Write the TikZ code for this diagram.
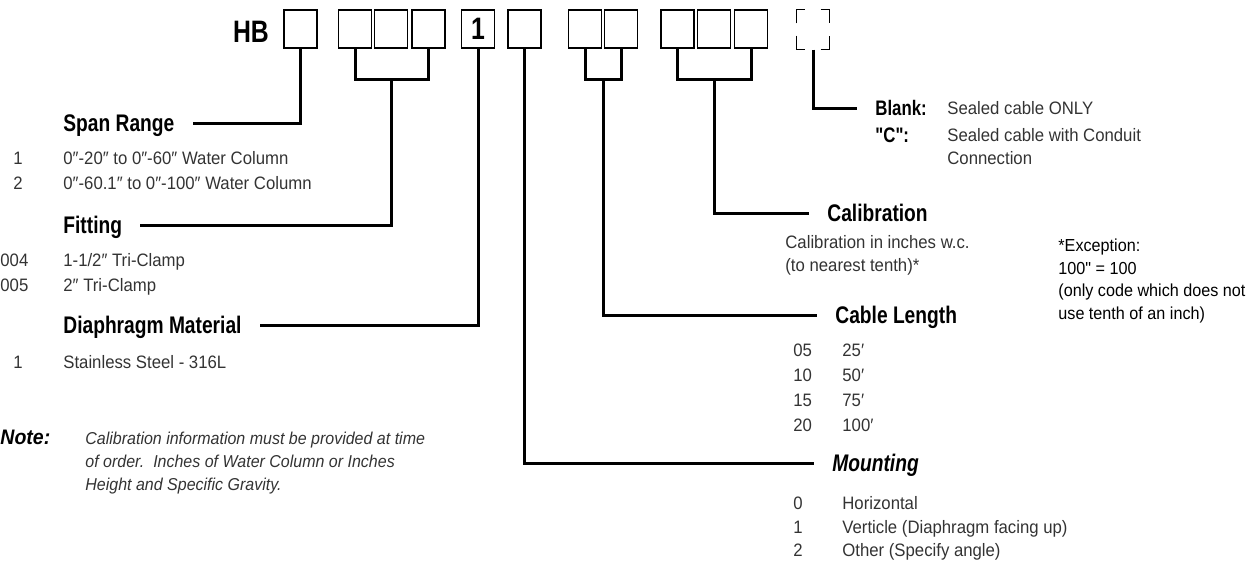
\documentclass[tikz,border=0pt]{standalone}
\usepackage{fontspec}
\setmainfont{Liberation Sans}[FakeStretch=0.93]
\newfontfamily\headfont{Liberation Sans}[FakeStretch=0.8]
\newfontfamily\plainfont{Liberation Sans}[FakeStretch=0.93, Ligatures=TeXOff]
\newfontfamily\plainhead{Liberation Sans}[FakeStretch=0.8, Ligatures=TeXOff]
\usepackage{tikz}
\usetikzlibrary{calc}

\begin{document}
\begin{tikzpicture}[x=0.5pt, y=-0.5pt,
    cell/.style={draw, line width=0.6pt, minimum width=16.5pt, minimum height=19pt, inner sep=0pt},
    lead/.style={line width=1.5pt},
    head/.style={anchor=west, inner xsep=9pt, inner ysep=0pt, text height=8.6pt, text depth=0pt,
                 font=\headfont\bfseries\fontsize{12}{14}\selectfont},
    list/.style={anchor=base west, inner sep=0pt, text=black!80, font=\fontsize{9}{12.5}\selectfont},
    para/.style={list, font=\fontsize{9}{11.5}\selectfont}]
  \useasboundingbox (0,0) rectangle (1247,568);

  \node[inner sep=0pt, text height=10.7pt, text depth=0pt,
        font=\headfont\bfseries\fontsize{15.5}{16}\selectfont] (hb) at (251,32) {HB};
  \node[cell] (b1)  at (300.5,29) {};
  \node[cell] (b2)  at (355,29)   {};
  \node[cell] (b3)  at (391,29)   {};
  \node[cell] (b4)  at (428.5,29) {};
  \node[cell, font=\headfont\bfseries\fontsize{15.5}{16}\selectfont] (b5) at (478,29) {1};
  \node[cell] (b6)  at (524.5,29) {};
  \node[cell] (b7)  at (585,29)   {};
  \node[cell] (b8)  at (621,29)   {};
  \node[cell] (b9)  at (677.5,29) {};
  \node[cell] (b10) at (714,29)   {};
  \node[cell] (b11) at (751,29)   {};
  \node[cell, draw=none, minimum width=16pt, minimum height=19.5pt] (opt) at (813,29.5) {};
  \draw[line width=0.6pt] ([yshift=-7pt]opt.north west) |- ([xshift=4.5pt]opt.north west);
  \draw[line width=0.6pt] ([xshift=-4.5pt]opt.north east) -| ([yshift=-7pt]opt.north east);
  \draw[line width=0.6pt] ([yshift=7pt]opt.south west) |- ([xshift=4.5pt]opt.south west);
  \draw[line width=0.6pt] ([xshift=-4.5pt]opt.south east) -| ([yshift=7pt]opt.south east);

  \node[head] (span)    at (45,123)  {Span Range};
  \node[head] (fitting) at (45,225)  {Fitting};
  \node[head] (diaph)   at (45,325)  {Diaphragm Material};
  \node[head] (calib)   at (809,213) {Calibration};
  \node[head] (cable)   at (817,315) {Cable Length};
  \node[head, font=\headfont\bfseries\itshape\fontsize{12}{14}\selectfont] (mount) at (814,463) {Mounting};
  \node[head, text height=7.2pt, font=\headfont\bfseries\fontsize{10.5}{12}\selectfont] (blank) at (857,108) {Blank:};
  \node[anchor=west, inner sep=0pt, text height=7.2pt, text depth=0pt,
        font=\plainhead\bfseries\fontsize{10.5}{12}\selectfont] (cq) at (875,135) {"C":};

  \node[list] (spanlist) at (13,164.5) {\begin{tabular}[t]{@{}p{25pt}@{}l@{}}
      1 & 0″-20″ to 0″-60″ Water Column\\
      2 & 0″-60.1″ to 0″-100″ Water Column\end{tabular}};
  \node[list] (fitlist) at (0,266.5) {\begin{tabular}[t]{@{}p{31.5pt}@{}l@{}}
      004 & 1-1/2″ Tri-Clamp\\
      005 & 2″ Tri-Clamp\end{tabular}};
  \node[list] (diaphlist) at (13,368.5) {\begin{tabular}[t]{@{}p{25pt}@{}l@{}}
      1 & Stainless Steel - 316L\end{tabular}};
  \node[list, text=black, font=\bfseries\itshape\fontsize{10.5}{12}\selectfont] (note) at (0,444.5) {Note:};
  \node[para, font=\itshape\fontsize{8.6}{11.5}\selectfont] (notetext) at (85,444.5) {\begin{tabular}[t]{@{}l@{}}
      Calibration information must be provided at time\\
      of order.\ \ Inches of Water Column or Inches\\
      Height and Specific Gravity.\end{tabular}};

  \node[para] (blanktext) at (947,114.5) {Sealed cable ONLY};
  \node[para] (ctext) at (947,141.5) {\begin{tabular}[t]{@{}l@{}}
      Sealed cable with Conduit\\
      Connection\end{tabular}};
  \node[para] (calibtext) at (785,248.5) {\begin{tabular}[t]{@{}l@{}}
      Calibration in inches w.c.\\
      (to nearest tenth)*\end{tabular}};
  \node[para, text=black, font=\plainfont\fontsize{8.7}{11.3}\selectfont] (exception) at (1058,251.5) {\begin{tabular}[t]{@{}l@{}}
      *Exception:\\
      100" = 100\\
      (only code which does not\\
      use tenth of an inch)\end{tabular}};
  \node[list] (cablelist) at (793,356.5) {\begin{tabular}[t]{@{}p{24.5pt}@{}l@{}}
      05 & 25′\\
      10 & 50′\\
      15 & 75′\\
      20 & 100′\end{tabular}};
  \node[list, font=\fontsize{9}{11.8}\selectfont] (mountlist) at (793,509.5) {\begin{tabular}[t]{@{}p{24.5pt}@{}l@{}}
      0 & Horizontal\\
      1 & Verticle (Diaphragm facing up)\\
      2 & Other (Specify angle)\end{tabular}};

  \draw[lead] (b1.south) |- (span.east);
  \draw[lead] (b2.south) -- ++(0,31) -| (b4.south);
  \draw[lead] ($(b2.south)!.5!(b4.south)$) ++(0,31) |- (fitting.east);
  \draw[lead] (b5.south) |- (diaph.east);
  \draw[lead] (b6.south) |- (mount.west);
  \draw[lead] (b7.south) -- ++(0,31) -| (b8.south);
  \draw[lead] ($(b7.south)!.5!(b8.south)$) ++(0,31) |- (cable.west);
  \draw[lead] (b9.south) -- ++(0,31) -| (b11.south);
  \draw[lead] ($(b9.south)!.5!(b11.south)$) ++(0,31) |- (calib.west);
  \draw[lead] (opt.south) |- (blank.west);
\end{tikzpicture}
\end{document}
